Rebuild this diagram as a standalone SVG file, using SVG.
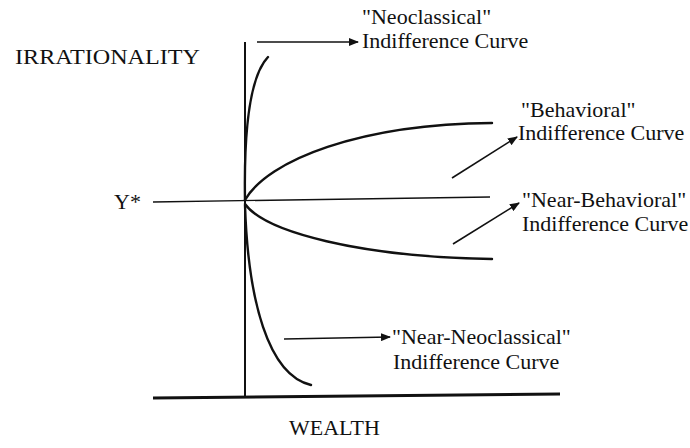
<svg xmlns="http://www.w3.org/2000/svg" width="690" height="448" viewBox="0 0 690 448">
<style>
text { font-family: "Liberation Serif", "Times New Roman", serif; font-size: 22px; fill: #111; }
.axis { stroke: #111; fill: none; }
.curve { stroke: #111; stroke-width: 2.4; fill: none; stroke-linecap: round; }
.arrow { stroke: #111; stroke-width: 1.6; fill: none; marker-end: url(#ah); }
</style>
<defs>
<marker id="ah" viewBox="0 0 10 8" refX="9" refY="4" markerWidth="10" markerHeight="8" markerUnits="userSpaceOnUse" orient="auto">
<path d="M0,0 L10,4 L0,8 Z" fill="#111"/>
</marker>
</defs>
<g id="axes">
<line class="axis" x1="245" y1="42" x2="245" y2="398" stroke-width="2"/>
<line class="axis" x1="153" y1="398" x2="560" y2="394" stroke-width="3"/>
<line class="axis" x1="153" y1="202" x2="490" y2="197" stroke-width="1.3"/>
</g>
<g id="curves">
<path id="neoclassical" class="curve" d="M245,200 C244,140 248,78 268,57"/>
<path id="near-neoclassical" class="curve" d="M245,205 C248,300 268,375 311,385"/>
<path id="behavioral" class="curve" d="M245,200 C268,160 360,124 492,123"/>
<path id="near-behavioral" class="curve" d="M245,204 C265,232 360,257 492,259"/>
</g>
<g id="connectors">
<line class="arrow" x1="257" y1="42" x2="358" y2="42"/>
<line class="arrow" x1="452" y1="178" x2="517" y2="137"/>
<line class="arrow" x1="453" y1="244" x2="519" y2="203"/>
<line class="arrow" x1="284" y1="339" x2="390" y2="337"/>
</g>
<g id="label-irrationality"><text x="15" y="64" textLength="185" lengthAdjust="spacingAndGlyphs">IRRATIONALITY</text></g>
<g id="label-ystar"><text x="114" y="209">Y*</text></g>
<g id="label-wealth"><text x="289" y="435">WEALTH</text></g>
<g id="label-neoclassical">
<text x="362" y="24">"Neoclassical"</text>
<text x="362" y="48">Indifference Curve</text>
</g>
<g id="label-behavioral">
<text x="521" y="117">"Behavioral"</text>
<text x="518" y="140">Indifference Curve</text>
</g>
<g id="label-near-behavioral">
<text x="522" y="207">"Near-Behavioral"</text>
<text x="522" y="231">Indifference Curve</text>
</g>
<g id="label-near-neoclassical">
<text x="392" y="344">"Near-Neoclassical"</text>
<text x="393" y="369">Indifference Curve</text>
</g>
</svg>
